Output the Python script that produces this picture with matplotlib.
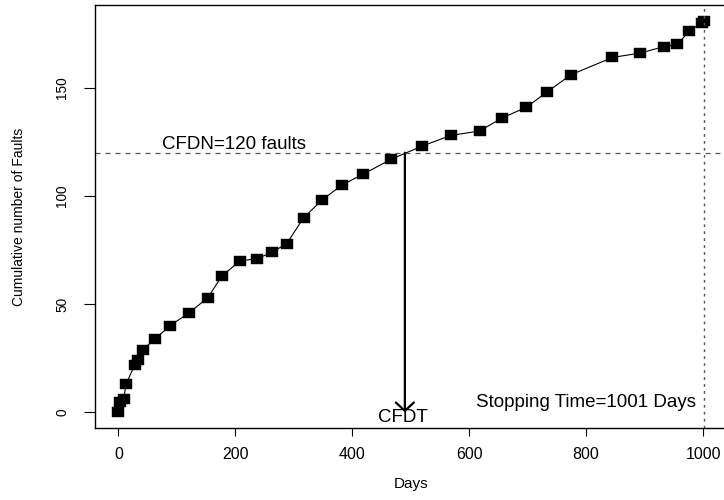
import matplotlib
matplotlib.use("Agg")
import matplotlib.pyplot as plt

days = [0, 3, 9, 13, 28, 34, 42, 63, 88, 121, 153, 177, 208, 237, 263, 288, 317, 348,
        382, 418, 467, 519, 569, 618, 656, 698, 733, 774, 845, 892, 933, 956, 976, 998, 1001]
faults = [0, 5, 6, 13, 22, 24, 29, 34, 40, 46, 53, 63, 70, 71, 74, 78, 90, 98,
          105, 110, 117, 123, 128, 130, 136, 141, 148, 156, 164, 166, 169, 170, 176, 180, 181]
cfdn = 120
cfdt = 490
stop_time = 1001
xticks = [0, 200, 400, 600, 800, 1000]
yticks = [0, 50, 100, 150]

plt.rcParams['font.family'] = ['Liberation Sans', 'DejaVu Sans']

fig = plt.figure(figsize=(7.24, 5.0), dpi=100)
W, H = 724, 500
left, right, top, bottom = 95, 727, 5, 428
ax = fig.add_axes([left / W, 1 - bottom / H, (right - left) / W, (bottom - top) / H])

# slightly wide square marker (reference is horizontally stretched)
rect = [(-1.0, -0.78), (1.0, -0.78), (1.0, 0.78), (-1.0, 0.78), (-1.0, -0.78)]
ax.plot(days, faults, color='black', lw=0.8, marker=rect, markersize=9,
        markerfacecolor='black', markeredgecolor='black', markeredgewidth=0.3)
ax.axhline(cfdn, color='#555555', lw=0.9, ls=(0, (4, 4)))
ax.axvline(stop_time, color='#555555', lw=1.0, ls=(0, (2, 3)))
ax.annotate('', xy=(cfdt, 0), xytext=(cfdt, cfdn),
            arrowprops=dict(arrowstyle='->,head_length=0.6,head_width=0.65',
                            color='black', lw=1.6, shrinkA=0, shrinkB=0))

ax.text(198, 121.7, 'CFDN=120 faults', ha='center', va='baseline', fontsize=13.5)
ax.text(cfdt - 4, -4.4, 'CFDT', ha='center', va='baseline', fontsize=13.5)
ax.text(799, 2.4, 'Stopping Time=1001 Days', ha='center', va='baseline', fontsize=13.5)

ax.set_xlim(-40.04, 1041.04)
ax.set_ylim(-7.24, 188.24)
ax.set_xticks(xticks)
ax.set_yticks(yticks)
ax.tick_params(axis='x', direction='out', length=5.8, width=0.8, labelsize=11.5, pad=8)
ax.tick_params(axis='y', direction='out', length=7.9, width=0.8, labelsize=9.8, pad=10.5)
for lab in ax.get_yticklabels():
    lab.set_rotation(90)
    lab.set_va('center')
ax.set_xlabel('Days', fontsize=11, labelpad=11)
ax.set_ylabel('Cumulative number of Faults', fontsize=10, labelpad=21)
for s in ax.spines.values():
    s.set_linewidth(1.0)

fig.savefig('out.png', dpi=100)
